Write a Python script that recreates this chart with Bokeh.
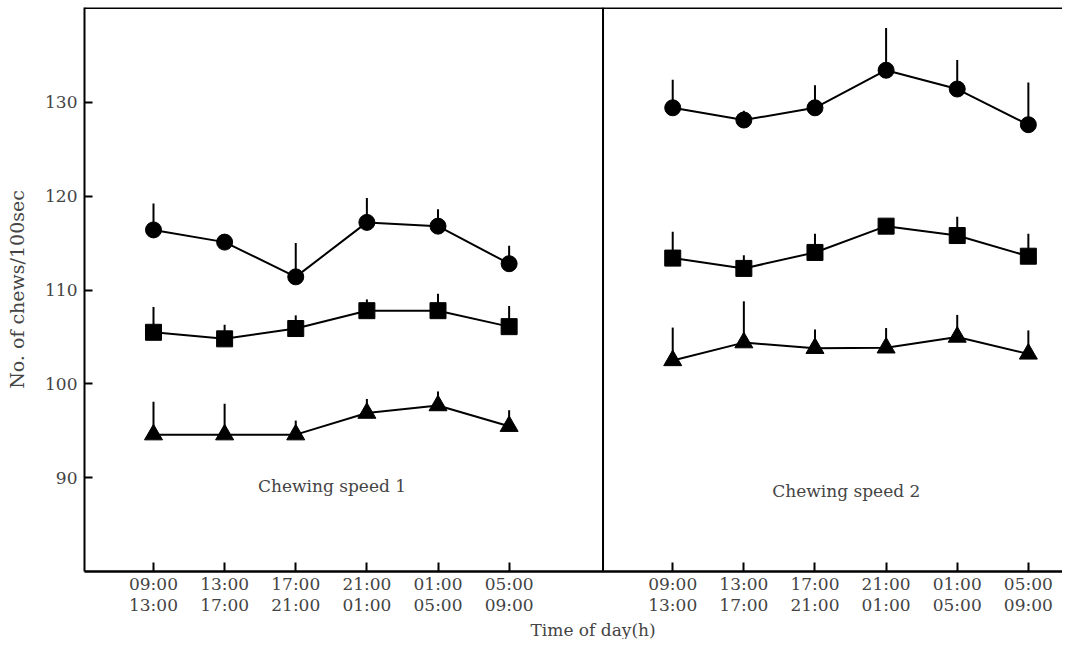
from bokeh.plotting import figure
from bokeh.models import FixedTicker, Label, Span, Title
from bokeh.embed import file_html
from bokeh.resources import INLINE

# ---------------- data ----------------
period_start = ["09:00", "13:00", "17:00", "21:00", "01:00", "05:00"]
period_end = ["13:00", "17:00", "21:00", "01:00", "05:00", "09:00"]
panel_titles = ["Chewing speed 1", "Chewing speed 2"]

# Chewing speed 1
s1_circle_mean = [116.4, 115.1, 111.4, 117.2, 116.8, 112.8]
s1_circle_sd = [2.8, 0.4, 3.6, 2.6, 1.8, 1.9]
s1_square_mean = [105.5, 104.8, 105.9, 107.8, 107.8, 106.1]
s1_square_sd = [2.7, 1.5, 1.4, 1.2, 1.8, 2.2]
s1_triangle_mean = [94.6, 94.6, 94.6, 96.9, 97.7, 95.5]
s1_triangle_sd = [3.5, 3.3, 1.5, 1.5, 1.5, 1.7]

# Chewing speed 2
s2_circle_mean = [129.4, 128.1, 129.4, 133.4, 131.4, 127.6]
s2_circle_sd = [3.0, 1.0, 2.4, 4.5, 3.1, 4.5]
s2_square_mean = [113.4, 112.3, 114.0, 116.8, 115.8, 113.6]
s2_square_sd = [2.8, 1.4, 2.0, 0.7, 2.0, 2.4]
s2_triangle_mean = [102.5, 104.4, 103.8, 103.85, 105.0, 103.2]
s2_triangle_sd = [3.5, 4.4, 2.0, 2.1, 2.35, 2.5]

x_title = "Time of day(h)"
y_title = "No. of chews/100sec"

# ---------------- layout constants ----------------
FONT = "DejaVu Serif"
STEP = 10          # spacing between periods (x units)
PANEL_OFFSET = [0, 73]
DIVIDER = 63.2

p = figure(width=1062, height=639, x_range=(-9.7, 127.8), y_range=(80.03, 140.08),
           output_backend="svg", toolbar_location=None,
           min_border_left=84, min_border_right=0, min_border_top=7, min_border_bottom=66)
p.background_fill_color = "white"
p.border_fill_color = "white"
p.outline_line_color = None
p.xgrid.visible = False
p.ygrid.visible = False

# y axis
p.yaxis.ticker = FixedTicker(ticks=[90, 100, 110, 120, 130])
p.yaxis.axis_label = y_title
p.yaxis.axis_label_text_font = FONT
p.yaxis.axis_label_text_font_size = "19px"
p.yaxis.axis_label_text_font_style = "normal"
p.yaxis.axis_label_standoff = 14
p.yaxis.major_label_text_font = FONT
p.yaxis.major_label_text_font_size = "17px"
p.yaxis.major_label_standoff = 7
p.yaxis.major_tick_in = 8
p.yaxis.major_tick_out = 0
p.yaxis.major_tick_line_width = 2
p.yaxis.minor_tick_in = 0
p.yaxis.minor_tick_out = 0
p.yaxis.axis_line_width = 2

# x axis
xticks = []
overrides = {}
for off in PANEL_OFFSET:
    for i, (a, b) in enumerate(zip(period_start, period_end)):
        t = off + i * STEP
        xticks.append(t)
        overrides[t] = a + "\n" + b
p.xaxis.ticker = FixedTicker(ticks=xticks)
p.xaxis.major_label_overrides = overrides
p.xaxis.major_label_text_font = FONT
p.xaxis.major_label_text_font_size = "17px"
p.xaxis.major_label_text_line_height = 1.05
p.xaxis.major_label_standoff = 2
p.xaxis.major_tick_in = 9
p.xaxis.major_tick_out = 0
p.xaxis.major_tick_line_width = 2
p.xaxis.minor_tick_in = 0
p.xaxis.minor_tick_out = 0
p.xaxis.axis_line_width = 2.5

# x axis title, shifted right as in the original
p.add_layout(Title(text=x_title, align="left", offset=446, standoff=0,
                   text_font=FONT, text_font_size="17px", text_font_style="normal"), "below")

# top border and panel divider
p.add_layout(Span(location=p.y_range.end, dimension="width", line_color="black", line_width=3))
p.add_layout(Span(location=DIVIDER, dimension="height", line_color="black", line_width=2))

series = [
    (s1_circle_mean, s1_circle_sd, s2_circle_mean, s2_circle_sd, "circle", 16),
    (s1_square_mean, s1_square_sd, s2_square_mean, s2_square_sd, "square", 16),
    (s1_triangle_mean, s1_triangle_sd, s2_triangle_mean, s2_triangle_sd, "triangle", 18),
]

for m1, sd1, m2, sd2, marker, size in series:
    for off, m, sd in ((PANEL_OFFSET[0], m1, sd1), (PANEL_OFFSET[1], m2, sd2)):
        xs = [off + i * STEP for i in range(len(m))]
        tops = [a + b for a, b in zip(m, sd)]
        p.line(xs, m, line_color="black", line_width=2)
        p.segment(x0=xs, y0=m, x1=xs, y1=tops, line_color="black", line_width=2)
        p.scatter(xs, m, marker=marker, size=size, fill_color="black", line_color="black")

# panel titles
p.add_layout(Label(x=25.1, y=89.1, text=panel_titles[0], text_font=FONT, text_font_size="17px",
                   text_align="center", text_baseline="middle"))
p.add_layout(Label(x=97.4, y=88.6, text=panel_titles[1], text_font=FONT, text_font_size="17px",
                   text_align="center", text_baseline="middle"))

open("out.html", "w").write(file_html(p, INLINE))
